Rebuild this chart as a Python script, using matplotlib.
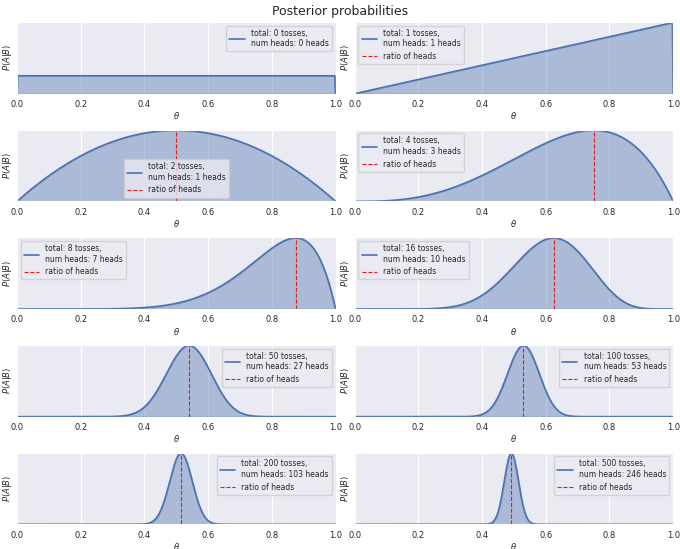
import numpy as np
import matplotlib
matplotlib.use("Agg")
import matplotlib.pyplot as plt
import seaborn as sns
from math import lgamma

sns.set_style("darkgrid")

tosses = [0, 1, 2, 4, 8, 16, 50, 100, 200, 500]
heads = [0, 1, 1, 3, 7, 10, 27, 53, 103, 246]
legend_locs = ["upper right", "upper left", "lower center", "upper left", "upper left",
               "upper left", "upper right", "upper right", "upper right", "upper right"]


def beta_pdf(x, a, b):
    logc = lgamma(a + b) - lgamma(a) - lgamma(b)
    with np.errstate(divide="ignore"):
        return np.exp(logc + (a - 1) * np.log(x) + (b - 1) * np.log(1 - x))


x = np.linspace(0, 1, 400)
fig, axes = plt.subplots(5, 2, figsize=(6.8, 5.49), dpi=100)
for i, ax in enumerate(axes.flat):
    n, h = tosses[i], heads[i]
    y = np.nan_to_num(beta_pdf(x, 1 + h, 1 + n - h))
    ax.plot(x, y, color="#4c72b0", lw=1.2, label=f"total: {n} tosses,\nnum heads: {h} heads")
    ax.fill_between(x, 0, y, color="#4c72b0", alpha=0.4)
    if n > 0:
        ax.axvline(h / n, color="#e41a1c", ls="--", lw=0.8, label="ratio of heads")
        ax.set_ylim(0, y.max() * 1.01)
    else:
        ax.set_ylim(0, 4.0)
    ax.set_xlim(0, 1)
    ax.set_yticks([])
    ax.set_ylabel("$P(A|B)$", fontsize=6, labelpad=2)
    ax.set_xlabel(r"$\theta$", fontsize=6, labelpad=1)
    ax.tick_params(labelsize=6, pad=1)
    ax.legend(loc=legend_locs[i], fontsize=5.5)

fig.suptitle("Posterior probabilities", fontsize=9, y=0.99)
fig.subplots_adjust(left=0.025, right=0.99, top=0.96, bottom=0.045, hspace=0.5, wspace=0.06)
fig.savefig("out.png")
